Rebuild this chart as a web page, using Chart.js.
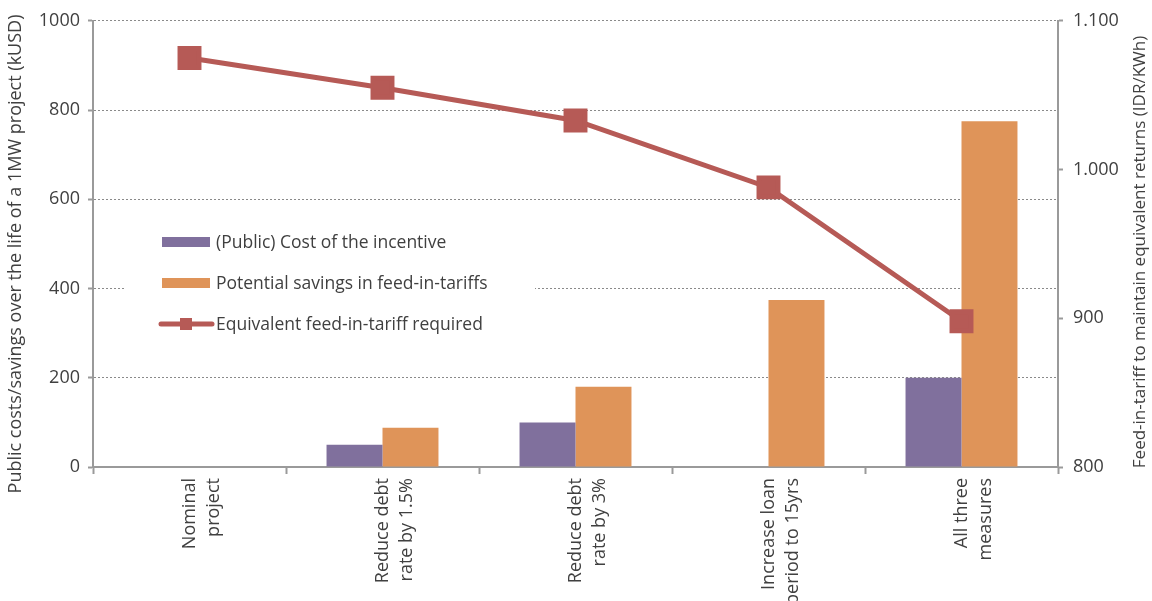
<!DOCTYPE html>
<html>
<head>
<meta charset="utf-8">
<script src="https://cdn.jsdelivr.net/npm/chart.js@4/dist/chart.umd.min.js"></script>
<style>
  html, body { margin: 0; padding: 0; background: #fff; overflow: hidden; }
  #wrap { width: 1152px; height: 601px; }
</style>
</head>
<body>
<div id="wrap"><canvas id="myChart" width="1152" height="601"></canvas></div>
<script>
// values
const categories = [
  ['Nominal', 'project'],
  ['Reduce debt', 'rate by 1.5%'],
  ['Reduce debt', 'rate by 3%'],
  ['Increase loan', 'period to 15yrs'],
  ['All three', 'measures']
];
const incentiveCost = [0, 50, 100, 0, 200];
const tariffSavings = [0, 88, 180, 374, 775];
const tariffRequired = [1075, 1055, 1033, 988, 898];

const leftTitle = 'Public costs/savings over the life of a 1MW project (kUSD)';
const rightTitle = 'Feed-in-tariff to maintain equivalent returns (IDR/KWh)';
const legendOrder = [1, 2, 0]; // bars first, then the line

const FONT = '"Open Sans", sans-serif';
const TEXT = '#404040';
const AXIS = '#9a9a9a';

// legend inside the plot on a white box (it hides the 400 gridline like the original)
// plus both axis titles, both reading bottom to top
const extras = {
  id: 'extras',
  afterDatasetsDraw(chart) {
    const ctx = chart.ctx;
    const x0 = 162, y0 = 242, rowH = 41;
    ctx.save();
    ctx.fillStyle = '#fff';
    ctx.fillRect(125, 222, 410, 122);
    ctx.font = '17.5px ' + FONT;
    ctx.textBaseline = 'middle';
    legendOrder.forEach((di, i) => {
      const ds = chart.data.datasets[di];
      const y = y0 + i * rowH;
      if (ds.type === 'line') {
        ctx.strokeStyle = ds.borderColor;
        ctx.lineWidth = 5;
        ctx.lineCap = 'round';
        ctx.beginPath();
        ctx.moveTo(x0 - 1, y);
        ctx.lineTo(x0 + 50, y);
        ctx.stroke();
        ctx.fillStyle = ds.borderColor;
        ctx.fillRect(x0 + 18, y - 6, 12, 12);
      } else {
        ctx.fillStyle = ds.backgroundColor;
        ctx.fillRect(x0, y - 5, 48, 10);
      }
      ctx.fillStyle = TEXT;
      ctx.fillText(ds.label, x0 + 54, y + 1);
    });

    ctx.textAlign = 'center';
    [[16, 254, leftTitle, 18], [1140, 252, rightTitle, 17]].forEach(([x, y, t, size]) => {
      ctx.save();
      ctx.font = size + 'px ' + FONT;
      ctx.translate(x, y);
      ctx.rotate(-Math.PI / 2);
      ctx.fillText(t, 0, 0);
      ctx.restore();
    });
    ctx.restore();
  }
};

const fmtDots = v => String(v).replace(/\B(?=(\d{3})+(?!\d))/g, '.');

new Chart(document.getElementById('myChart').getContext('2d'), {
  data: {
    labels: categories,
    datasets: [
      {
        type: 'line',
        label: 'Equivalent feed-in-tariff required',
        data: tariffRequired,
        yAxisID: 'yRight',
        borderColor: '#b65a56',
        backgroundColor: '#b65a56',
        borderWidth: 5,
        pointStyle: 'rect',
        pointRadius: 13.4,
        pointHoverRadius: 13.4,
        order: 0
      },
      {
        type: 'bar',
        label: '(Public) Cost of the incentive',
        data: incentiveCost,
        yAxisID: 'yLeft',
        backgroundColor: '#80709d',
        order: 1
      },
      {
        type: 'bar',
        label: 'Potential savings in feed-in-tariffs',
        data: tariffSavings,
        yAxisID: 'yLeft',
        backgroundColor: '#df9459',
        order: 1
      }
    ]
  },
  options: {
    responsive: false,
    animation: false,
    datasets: {
      bar: { categoryPercentage: 0.58, barPercentage: 1.0 }
    },
    layout: { padding: { top: 17, left: 0, right: 0, bottom: 0 } },
    plugins: {
      legend: { display: false },
      tooltip: { enabled: false }
    },
    scales: {
      x: {
        offset: true,
        grid: {
          offset: true,
          drawOnChartArea: false,
          drawTicks: true,
          tickLength: 7,
          tickColor: AXIS,
          tickWidth: 2
        },
        border: { color: AXIS, width: 2 },
        ticks: {
          minRotation: 90,
          maxRotation: 90,
          autoSkip: false,
          padding: 4,
          color: TEXT,
          font: { family: FONT, size: 18, lineHeight: 1.33 }
        },
        afterFit(scale) { scale.height = 134; }
      },
      yLeft: {
        position: 'left',
        min: 0,
        max: 1000,
        ticks: {
          stepSize: 200,
          padding: 8,
          color: TEXT,
          font: { family: FONT, size: 18 },
          callback: v => String(v)
        },
        grid: {
          color: '#8a8a8a',
          lineWidth: 1,
          tickLength: 5,
          tickColor: AXIS,
          tickWidth: 2,
          tickBorderDash: []
        },
        border: { color: AXIS, width: 2, dash: [2, 2] },
        afterFit(scale) { scale.width = 93; }
      },
      yRight: {
        position: 'right',
        min: 800,
        max: 1100,
        ticks: {
          stepSize: 100,
          padding: 10,
          color: TEXT,
          font: { family: FONT, size: 18 },
          callback: v => fmtDots(v)
        },
        grid: {
          drawOnChartArea: false,
          tickLength: 5,
          tickColor: AXIS,
          tickWidth: 2
        },
        border: { color: AXIS, width: 2 },
        afterFit(scale) { scale.width = 94; }
      }
    }
  },
  plugins: [extras]
});
</script>
</body>
</html>
